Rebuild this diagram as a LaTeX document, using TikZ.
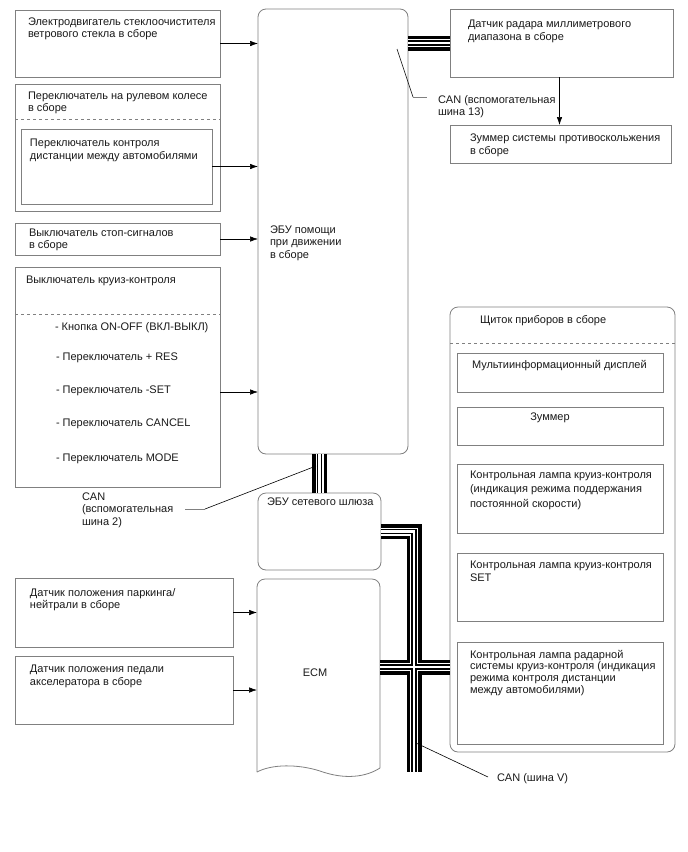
\documentclass[tikz,border=0pt]{standalone}
\usepackage{fontspec}
\setmainfont{Liberation Sans}
\usetikzlibrary{arrows.meta,calc}
\definecolor{bordergray}{HTML}{808080}
\definecolor{txt}{HTML}{1A1A1A}
\newcommand\mystrut{\rule{0pt}{10pt}}
\begin{document}
\begin{tikzpicture}[x=1pt,y=1pt,
  box/.style={draw=bordergray, line width=0.8pt, anchor=north west, inner sep=0pt, outer sep=0pt},
  rbox/.style={box, rounded corners=8pt},
  lbl/.style={anchor=north west, inner sep=0pt, outer sep=0pt, align=left, text=txt, font=\fontsize{11}{12.5}\selectfont},
  arr/.style={-{Latex[length=8pt,width=5.5pt]}, line width=0.6pt, black},
  lead/.style={line width=0.6pt, black},
  dashline/.style={draw=bordergray, dash pattern=on 3pt off 3pt, line width=0.8pt},
  bA/.style={line width=15pt, black},
  bB/.style={line width=8pt, white},
  bC/.style={line width=5.4pt, black},
  bD/.style={line width=2.4pt, white}
]
\useasboundingbox (0,0) rectangle (688,-852);
\fill[white] (0,0) rectangle (688,-852);

% ---------- boxes ----------
\node[box, minimum width=205, minimum height=67]  (wiper)   at (15,-10) {};
\node[box, minimum width=205, minimum height=127] (steer)   at (15,-84) {};
\node[box, minimum width=191, minimum height=75]  (steerin) at (21,-129) {};
\node[box, minimum width=205, minimum height=32]  (stop)    at (15,-223) {};
\node[box, minimum width=205, minimum height=220] (cruise)  at (15,-267) {};
\node[rbox, minimum width=150, minimum height=445] (ecu)    at (258,-9) {};
\node[box, minimum width=223, minimum height=68]  (radar)   at (450,-9) {};
\node[box, minimum width=221, minimum height=38]  (buzzer)  at (450,-125) {};
\node[rbox, minimum width=123, minimum height=77] (gw)      at (258,-493) {};
\node[anchor=north west, inner sep=0pt, outer sep=0pt, minimum width=123, minimum height=193] (ecm) at (257,-579) {};
\node[box, minimum width=218, minimum height=69]  (park)    at (15,-578) {};
\node[box, minimum width=218, minimum height=68]  (accel)   at (15,-656) {};
\node[rbox, minimum width=225, minimum height=445] (panel)  at (450,-307) {};
\node[box, minimum width=206, minimum height=39]  (multi)   at (457,-353) {};
\node[box, minimum width=206, minimum height=38]  (pbuzz)   at (457,-407) {};
\node[box, minimum width=206, minimum height=69]  (lamp1)   at (457,-464) {};
\node[box, minimum width=206, minimum height=68]  (lamp2)   at (457,-553) {};
\node[box, minimum width=206, minimum height=102] (lamp3)   at (457,-642) {};

% ECM outline
\draw[bordergray, line width=0.8pt, rounded corners=8pt] (ecm.south west) -- (ecm.north west) -- (ecm.north east) -- ([yshift=4pt]ecm.south east);
\draw[bordergray, line width=0.8pt] (ecm.south west) .. controls (272,-764) and (298,-764) .. (320,-771) .. controls (345,-780) and (366,-777) .. ([yshift=4pt]ecm.south east);

% dashed separators
\draw[dashline] (steer.west |- 0,-119) -- (steer.east |- 0,-119);
\draw[dashline] (cruise.west |- 0,-314) -- (cruise.east |- 0,-314);
\draw[dashline] (panel.west |- 0,-343) -- (panel.east |- 0,-343);

% ---------- texts ----------
\node[lbl] (t-wiper) at (28,-15) {\mystrut Электродвигатель стеклоочистителя\\ветрового стекла в сборе};
\node[lbl] (t-steer) at (28,-89) {\mystrut Переключатель на рулевом колесе\\в сборе};
\node[lbl] (t-steerin) at (30,-136.7) {\mystrut Переключатель контроля\\дистанции между автомобилями};
\node[lbl] (t-stop) at (29,-226) {\mystrut Выключатель стоп-сигналов\\в сборе};
\node[lbl] (t-cruise) at (26,-273) {\mystrut Выключатель круиз-контроля};
\node[lbl] (it1) at (55,-320.7) {\mystrut - Кнопка ON-OFF (ВКЛ-ВЫКЛ)};
\node[lbl] (it2) at (56,-350.7) {\mystrut - Переключатель + RES};
\node[lbl] (it3) at (56,-383) {\mystrut - Переключатель -SET};
\node[lbl] (it4) at (56,-416) {\mystrut - Переключатель CANCEL};
\node[lbl] (it5) at (56,-451.7) {\mystrut - Переключатель MODE};
\node[lbl] (t-ecu) at (270,-223) {\mystrut ЭБУ помощи\\при движении\\в сборе};
\node[lbl] (t-radar) at (468,-17.5) {\mystrut Датчик радара миллиметрового\\диапазона в сборе};
\node[lbl] (t-buzzer) at (470,-131.5) {\mystrut Зуммер системы противоскольжения\\в сборе};
\node[lbl] (can13) at (438,-93) {\mystrut CAN (вспомогательная\\шина 13)};
\node[lbl] (can2) at (82,-490) {\mystrut CAN\\(вспомогательная\\шина 2)};
\node[lbl] (t-gw) at (267,-495) {\mystrut ЭБУ сетевого шлюза};
\node[lbl, anchor=base] (t-ecm) at (315,-676) {ECM};
\node[lbl] (t-park) at (30,-586) {\mystrut Датчик положения паркинга/\\нейтрали в сборе};
\node[lbl] (t-accel) at (30,-662.7) {\mystrut Датчик положения педали\\акселератора в сборе};
\node[lbl] (t-panel) at (480,-313) {\mystrut Щиток приборов в сборе};
\node[lbl] (t-multi) at (472,-358) {\mystrut Мультиинформационный дисплей};
\node[lbl, anchor=base] (t-pbuzz) at (550,-420) {Зуммер};
\node[lbl, font=\fontsize{11}{14.5}\selectfont] (t-lamp1) at (470,-468) {\mystrut Контрольная лампа круиз-контроля\\(индикация режима поддержания\\постоянной скорости)};
\node[lbl, font=\fontsize{11}{13.5}\selectfont] (t-lamp2) at (470,-558) {\mystrut Контрольная лампа круиз-контроля\\SET};
\node[lbl, font=\fontsize{11}{11.8}\selectfont] (t-lamp3) at (470,-648) {\mystrut Контрольная лампа радарной\\системы круиз-контроля (индикация\\режима контроля дистанции\\между автомобилями)};
\node[lbl] (canV) at (497,-771) {\mystrut CAN (шина V)};

% ---------- arrows ----------
\draw[arr] (wiper.east) -- (wiper.east -| ecu.west);
\draw[arr] (steerin.east) -- (steerin.east -| ecu.west);
\draw[arr] (stop.east) -- (stop.east -| ecu.west);
\draw[arr] ([yshift=-15pt]cruise.east) -- ([yshift=-15pt]cruise.east -| ecu.west);
\draw[arr] (park.east) -- (park.east -| ecm.west);
\draw[arr] (accel.east) -- (accel.east -| ecm.west);
\draw[arr] ([xshift=-2pt]radar.south) -- ([xshift=-2pt]buzzer.north -| radar.south);

% ---------- CAN buses ----------
\coordinate (busend) at (414,-772);
\coordinate (junc) at (414,-667);
\foreach \s in {bA,bB,bC,bD}{
  \draw[\s] (ecu.east |- radar.west) -- (radar.west);
  \draw[\s] (gw.north |- ecu.south) -- (gw.north);
  \draw[\s] (gw.east) -- (busend |- gw.east) -- (busend);
  \draw[\s] (ecm.east |- junc) -- (panel.west |- junc);
}

% ---------- leaders ----------
\coordinate (l13a) at (397,-49);
\coordinate (l13b) at (413,-97);
\coordinate (l13c) at (427,-97);
\draw[lead] (l13a) -- (l13b);
\draw[bordergray, line width=0.8pt] (l13b) -- (l13c);
\coordinate (l2a) at (185,-509);
\coordinate (l2b) at (205,-509);
\coordinate (l2c) at (316,-466);
\draw[bordergray, line width=0.8pt] (l2a) -- (l2b);
\draw[lead] (l2b) -- (l2c);
\coordinate (lva) at (416,-743);
\coordinate (lvb) at (488,-777);
\draw[lead] (lva) -- (lvb);
\end{tikzpicture}
\end{document}
